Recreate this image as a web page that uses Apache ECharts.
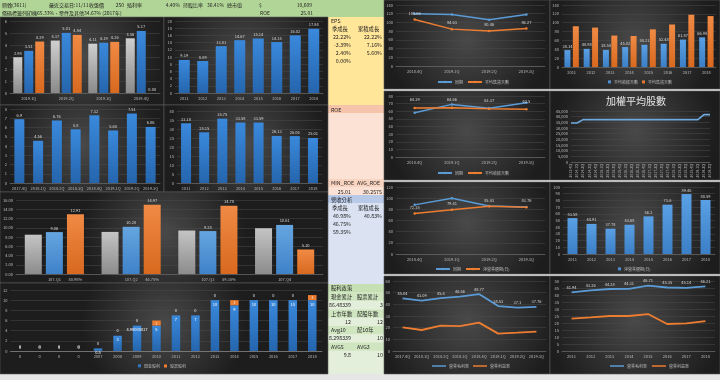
<!DOCTYPE html>
<html><head><meta charset="utf-8">
<script src="https://cdn.jsdelivr.net/npm/echarts@6/dist/echarts.min.js"></script>
<style>html,body{margin:0;padding:0;background:#e6e6e6}#c{width:720px;height:380px}</style>
</head><body><div id="c"></div>
<script>
// ---------------- DATA ----------------
const epsQCats = ['2019.1Q', '2019.2Q', '2019.3Q', '2019.4Q'];
const epsQGray = [2.98, 4.37, 4.11, 4.56];
const epsQBlue = [3.51, 5.01, 4.19, 5.17];
const epsQOrange = [4.29, 4.84, 4.26, 0];

const years = ['2011', '2012', '2013', '2014', '2015', '2016', '2017', '2018'];
const epsAnnual = [9.19, 8.89, 13.01, 14.67, 15.14, 14.15, 16.02, 17.84];

const roeQCats = ['2017.4Q', '2018.1Q', '2018.2Q', '2018.3Q', '2018.4Q', '2019.1Q', '2019.2Q', '2019.3Q'];
const roeQ = [6.9, 4.56, 6.76, 5.8, 7.32, 5.68, 7.51, 6.06];
const roeAnnual = [33.18, 28.15, 35.75, 33.58, 33.59, 26.13, 26.06, 25.01];

const revCats = ['107.Q1', '107.Q2', '107.Q3', '107.Q4'];
const revGrowthLbl = ['40.98%', '46.75%', '59.35%', ''];
const revGray = [8.5, 9.1, 9.4, 9.9];
const revBlue = [9.06, 10.2, 9.28, 10.61];
const revOrange = [12.91, 14.97, 14.78, 5.3];

const divCats = ['0', '0', '0', '0', '2007', '2008', '2009', '2010', '2011', '2012', '2013', '2014', '2015', '2016', '2017', '2018'];
const divCash = [0, 0, 0, 0, 0.5, 3, 4.98000017, 5, 7, 7, 10, 9, 10, 10, 10, 10];
const divStock = [0, 0, 0, 0, 0, 0, 0, 1, 0, 0, 0, 1, 0, 0, 0, 1];

const qCats4 = ['2018.4Q', '2019.1Q', '2019.2Q', '2019.3Q'];
const invSame = [120, 118, 106, 118];
const invDaysQ = [106.66, 84.63, 80.46, 86.27];
const arDaysY = [38.14, 40.98, 38.54, 45.02, 50.21, 52.48, 61.87, 66.98];
const invDaysY = [92, 89, 71, 70, 85, 96, 118, 115];

const arSame = [58, 69, 64, 71];
const arDaysQ = [64.39, 64.66, 63.37, 62.5];

const shareCats = ['2013.4Q', '2014.1Q', '2014.2Q', '2014.3Q', '2014.4Q', '2015.1Q', '2015.2Q', '2015.3Q', '2015.4Q', '2016.1Q', '2016.2Q', '2016.3Q', '2016.4Q', '2017.1Q', '2017.2Q', '2017.3Q', '2017.4Q', '2018.1Q', '2018.2Q', '2018.3Q', '2018.4Q', '2019.1Q', '2019.2Q', '2019.3Q'];
const shares = [34400, 34400, 37400, 37400, 37400, 37400, 37400, 37400, 37400, 37400, 37400, 37400, 37400, 37400, 37400, 37400, 37400, 37400, 37400, 37400, 37400, 37400, 41800, 41800];

const cccSame = [88, 100, 86, 84];
const cccQ = [72.35, 79.41, 85.43, 83.76];
const cccY = [53.58, 44.91, 37.78, 43.68, 56.2, 73.6, 89.46, 80.59];

const gmQ = [45.04, 43.09, 45.4, 46.56, 48.77, 38.53, 37.1, 37.76];
const omQ = [20.3, 18, 21.7, 21.4, 24.3, 14.9, 15.7, 16.6];
const gmY = [41.94, 43.26, 44.28, 44.31, 46.71, 45.35, 45.14, 46.21];
const omY = [23.1, 24, 25, 25, 26.4, 19.3, 19.8, 21.4];

// side panels
const epsGrowthQ = ['22.22%', '-3.39%', '2.40%', '0.00%'];
const epsGrowthCum = ['22.22%', '7.16%', '5.60%'];
const roeMinAvg = ['25.01', '30.2575'];
const revGrowthQ = ['40.98%', '46.75%', '59.35%'];
const revGrowthCum = ['40.83%'];
const divStats = [['86.48339', '3'], ['12', '12'], ['8.298339', '10'], ['9.8', '10']];

// ---------------- BUILD ----------------
const FONT = '"Noto Sans CJK TC","Noto Sans",sans-serif';
const AX = '#bdbdbd';
const LB = '#d9d9d9';
const LBLUE = '#5b9bd5', ORANGE = '#ed7d31';
const grids = [], xAxes = [], yAxes = [], series = [], legends = [], graphics = [];

function merge(a, b) {
  const out = Object.assign({}, a);
  for (const k in (b || {})) {
    if (b[k] && typeof b[k] === 'object' && !Array.isArray(b[k]) && a[k] && typeof a[k] === 'object') out[k] = merge(a[k], b[k]);
    else out[k] = b[k];
  }
  return out;
}
function addGrid(l, t, w, h, cats, ymin, ymax, yint, xo, yo) {
  grids.push({ left: l, top: t, width: w, height: h });
  const gi = grids.length - 1;
  xAxes.push(merge({
    gridIndex: gi, type: 'category', data: cats,
    axisLine: { show: true, lineStyle: { color: '#6e6e6e', width: 0.6 } },
    axisTick: { show: false },
    axisLabel: { interval: 0, fontSize: 4, color: AX, margin: 3 },
    splitLine: { show: false }
  }, xo));
  yAxes.push(merge({
    gridIndex: gi, type: 'value', min: ymin, max: ymax, interval: yint,
    axisLine: { show: false }, axisTick: { show: false },
    splitLine: { lineStyle: { color: '#4b4b4b', width: 0.5 } },
    axisLabel: { fontSize: 4, color: AX, margin: 3 }
  }, yo));
  return gi;
}
function vGrad(c1, c2) {
  return { type: 'linear', x: 0, y: 0, x2: 0, y2: 1, colorStops: [{ offset: 0, color: c1 }, { offset: 1, color: c2 }] };
}
function lbl(fmt, extra) {
  return Object.assign({ show: true, position: 'top', fontSize: 4, color: LB, distance: 2, formatter: fmt }, extra || {});
}
const f2 = p => Number(p.value).toFixed(2);
const fr = p => String(p.value);
function bar(gi, name, data, color, w, label, extra) {
  series.push(Object.assign({ type: 'bar', name, xAxisIndex: gi, yAxisIndex: gi, data, barWidth: w, barGap: '22%', itemStyle: { color }, label: label || { show: false } }, extra || {}));
}
function line(gi, name, data, color, label, extra) {
  series.push(Object.assign({ type: 'line', name, xAxisIndex: gi, yAxisIndex: gi, data, symbol: 'circle', symbolSize: 2.5, lineStyle: { color, width: 1.5 }, itemStyle: { color }, label: label || { show: false } }, extra || {}));
}
function legend(left, top, items) {
  legends.push({ left, top, itemWidth: 14, itemHeight: 3, itemGap: 4, padding: 0, textStyle: { fontSize: 4, color: AX, padding: [0, 0, 0, -2] }, data: items, selectedMode: false });
}
function panel(x, y, w, h) {
  graphics.push({ type: 'rect', z: -10, shape: { x, y, width: w, height: h },
    style: { fill: { type: 'radial', x: 0.5, y: 0.45, r: 0.9, colorStops: [{ offset: 0, color: '#494949' }, { offset: 1, color: '#1d1d1d' }] }, stroke: '#5c5c5c', lineWidth: 0.6 } });
}
function box(x, y, w, h, fill) {
  graphics.push({ type: 'rect', z: -10, shape: { x, y, width: w, height: h }, style: { fill } });
}
function txt(x, y, s, o) {
  graphics.push({ type: 'text', z: 50, x, y, style: Object.assign({ text: s, fill: '#1e1e1e', fontSize: 5.3, fontFamily: FONT, align: 'left', verticalAlign: 'middle' }, o || {}) });
}

// ---- header ----
box(0, 0, 384, 17, '#b1d596');
const HF = 5;
txt(2, 5, '鼎翰(3611)', { fontSize: HF });
txt(49, 5, '最近交易日:11/11', { fontSize: HF });
txt(89, 5, '收盤價', { fontSize: HF });
txt(124, 5, '250', { fontSize: HF, align: 'right' });
txt(127, 5, '殖利率', { fontSize: HF });
txt(180, 5, '4.40%', { fontSize: HF, align: 'right' });
txt(183, 5, '持股比率', { fontSize: HF });
txt(224, 5, '36.41%', { fontSize: HF, align: 'right' });
txt(227, 5, '總市值', { fontSize: HF });
txt(259, 5, '$', { fontSize: HF });
txt(312, 5, '10,609', { fontSize: HF, align: 'right' });
txt(2, 13, '條碼標籤列印機65.33%、零件及其他34.67% (2017年)', { fontSize: HF });
txt(260, 13, 'ROE', { fontSize: HF });
txt(313, 13, '25.01', { fontSize: HF, align: 'right' });

// ---- side panels ----
box(328, 17, 56, 88, '#ffe699');
txt(331, 21, 'EPS');
txt(332, 29, '季成長'); txt(358, 29, '累積成長');
epsGrowthQ.forEach((v, i) => txt(351, 37 + 8 * i, v, { align: 'right' }));
epsGrowthCum.forEach((v, i) => txt(382, 37 + 8 * i, v, { align: 'right' }));

box(328, 105, 56, 90, '#fbe2d5');
box(328, 105, 56, 8, '#f6c4aa');
txt(331, 109.5, 'ROE');
box(328, 179, 56, 8, '#f8d3c0');
txt(331, 183, 'MIN_ROE'); txt(357, 183, 'AVG_ROE');
txt(351, 192, roeMinAvg[0], { align: 'right' }); txt(382, 192, roeMinAvg[1], { align: 'right' });

box(328, 195, 56, 89, '#dbe3f3');
box(328, 195, 56, 8, '#b9c9e8');
txt(331, 199.5, '營收分析');
txt(332, 207.5, '季成長'); txt(358, 207.5, '累積成長');
revGrowthQ.forEach((v, i) => txt(351, 216 + 8 * i, v, { align: 'right' }));
revGrowthCum.forEach((v, i) => txt(382, 216 + 8 * i, v, { align: 'right' }));

box(328, 284, 56, 90, '#e3efda');
const divHeads = [['股利政策', ''], ['現金累計', '股票累計'], ['上市年數', '配股年數'], ['Avg10', '配10年'], ['AVG5', 'AVG3']];
box(328, 284, 56, 8.5, '#c6e0b4');
[292.5, 309.5, 326, 342.5].forEach(y => box(328, y, 56, 8.3, '#cfe5c0'));
txt(331, 288, divHeads[0][0]);
[297, 313.5, 330, 346.5].forEach((y, i) => { txt(331, y, divHeads[i + 1][0]); txt(357, y, divHeads[i + 1][1]); });
[305, 322, 338, 354.5].forEach((y, i) => { txt(351, y, divStats[i][0], { align: 'right' }); txt(383, y, divStats[i][1], { align: 'right' }); });

// ---- left panels ----
panel(0, 17, 164, 88);
panel(164, 17, 164, 88);
panel(0, 105, 164, 87);
panel(164, 105, 164, 87);
panel(0, 192, 328, 91);
panel(0, 283, 328, 91);

// right panels
panel(384, 0, 166, 89);
panel(550, 0, 170, 89);
panel(384, 91, 166, 89);
panel(550, 91, 170, 89);
panel(384, 182, 166, 92);
panel(550, 182, 170, 92);
panel(384, 276, 166, 98);
panel(550, 276, 170, 98);

// Chart A: EPS quarterly
let g = addGrid(10, 21, 150, 72, epsQCats, 0, 6, 1);
bar(g, 'a1', epsQGray, vGrad('#cfcfcf', '#8a8a8a'), 9, lbl(f2));
bar(g, 'a2', epsQBlue, vGrad('#3a89dc', '#2565ad'), 9, lbl(f2));
bar(g, 'a3', epsQOrange, vGrad('#f08a44', '#d8691f'), 9, lbl(f2));

// Chart B: EPS annual
g = addGrid(175, 21, 148, 72, years, 0, 20, 2);
bar(g, 'b1', epsAnnual, vGrad('#3a89dc', '#2565ad'), 11, lbl(f2));

// Chart C: ROE quarterly
g = addGrid(10, 109, 150, 74, roeQCats, 0, 8, 1);
bar(g, 'c1', roeQ, vGrad('#3a89dc', '#2565ad'), 10, lbl(fr));

// Chart D: ROE annual
g = addGrid(177, 111, 145, 72, years, 0, 40, 5);
bar(g, 'd1', roeAnnual, vGrad('#3a89dc', '#2565ad'), 10, lbl(f2));

// Chart E: revenue
g = addGrid(15, 200, 308, 74, revCats, 0, 16, 2, {
  axisLabel: {
    formatter: (v, i) => '{p|}{a|' + v + '}{b|' + revGrowthLbl[i] + '}',
    rich: { p: { width: 21, fontSize: 4 }, a: { width: 21, align: 'center', fontSize: 4, color: AX }, b: { width: 21, align: 'center', fontSize: 4, color: AX } }
  }
}, { axisLabel: { formatter: v => v.toFixed(2) } });
bar(g, 'e1', revGray, vGrad('#c4c4c4', '#8c8c8c'), 17, null, { barGap: '24%' });
bar(g, 'e2', revBlue, vGrad('#65a5e0', '#3f82c8'), 17, lbl(f2), { barGap: '24%' });
bar(g, 'e3', revOrange, vGrad('#f08a44', '#d8691f'), 17, lbl(f2), { barGap: '24%' });

// Chart F: dividends
g = addGrid(10, 290, 312, 61, divCats, 0, 12, 2, { axisLine: { lineStyle: { color: '#9a9a9a' } } });
series.push({
  type: 'bar', name: '現金股利', stack: 'div', xAxisIndex: g, yAxisIndex: g, barWidth: 8.5,
  itemStyle: { color: vGrad('#3a89dc', '#2565ad') },
  data: divCash.map(v => v === 0 ? { value: v, label: { position: 'top' } } : v),
  label: { show: true, position: 'insideTop', fontSize: 4, color: '#ffffff', distance: 2 }
});
series.push({
  type: 'bar', name: '股票股利', stack: 'div', xAxisIndex: g, yAxisIndex: g, barWidth: 8.5,
  itemStyle: { color: ORANGE },
  data: divStock.map(v => v > 0 ? { value: v, label: { position: 'inside' } } : v),
  label: { show: true, position: 'top', fontSize: 4, color: '#e6e6e6', distance: 3 }
});
legend(138, 364, [{ name: '現金股利', icon: 'rect' }, { name: '股票股利', icon: 'rect' }]);
legends[legends.length - 1].itemWidth = 3;

// R1a
g = addGrid(396, 5, 149, 61, qCats4, 0, 140, 20);
line(g, '同期', invSame, LBLUE);
line(g, '平均售貨天數', invDaysQ, ORANGE, lbl(fr, { distance: 3 }));
legend(437, 80, ['同期', '平均售貨天數']);

// R1b
g = addGrid(562, 5, 154, 62, years, 0, 140, 20);
bar(g, '平均收帳天數', arDaysY, vGrad('#5aa0e4', '#3b7fc6'), 6, lbl(fr), { barGap: '40%' });
bar(g, '平均售貨天數 ', invDaysY, vGrad('#f08a44', '#d8691f'), 6, null, { barGap: '40%' });
legend(608, 80, [{ name: '平均收帳天數', icon: 'rect' }, { name: '平均售貨天數 ', icon: 'rect' }]);
legends[legends.length - 1].itemWidth = 3;

// R2a
g = addGrid(396, 96, 149, 61, qCats4, 0, 80, 10);
line(g, '同期', arSame, LBLUE);
line(g, '平均收帳天數 ', arDaysQ, ORANGE, lbl(fr, { distance: 5 }));
legend(437, 171, ['同期', '平均收帳天數 ']);

// R2b shares
graphics.push({ type: 'text', z: 50, x: 636, y: 101, style: { text: '加權平均股數', fill: '#e8e8e8', fontSize: 10, fontFamily: '"Noto Sans CJK TC",serif', align: 'center', verticalAlign: 'middle' } });
g = addGrid(571, 111, 139, 51, shareCats, 0, 45000, 5000, { boundaryGap: false, axisLabel: { rotate: 90, fontSize: 3.6, margin: 2 } });
line(g, 's1', shares, LBLUE, null, { symbol: 'none', lineStyle: { color: '#6fa8dc', width: 1.6 } });

// R3a
g = addGrid(396, 187, 149, 67, qCats4, 0, 120, 20);
line(g, '同期', cccSame, LBLUE);
line(g, '淨營業週期(日)', cccQ, ORANGE, lbl(fr, { distance: 3 }));
legend(435, 267, ['同期', '淨營業週期(日)']);

// R3b
g = addGrid(563, 187, 152, 67, years, 0, 100, 10);
bar(g, '淨營業週期(日) ', cccY, vGrad('#5aa0e4', '#3b7fc6'), 10, lbl(fr));
legend(618, 267, [{ name: '淨營業週期(日) ', icon: 'rect' }]);
legends[legends.length - 1].itemWidth = 3;

// R4a
const noSym = c => ({ symbol: 'circle', symbolSize: 0.01, lineStyle: { color: c, width: 1.8 } });
g = addGrid(393, 281, 153, 70, roeQCats, 0, 60, 10);
line(g, '營業毛利率', gmQ, LBLUE, lbl(fr, { distance: 3 }), noSym(LBLUE));
line(g, '營業利益率', omQ, ORANGE, null, noSym(ORANGE));
legend(432, 364, [{ name: '營業毛利率', icon: 'rect' }, { name: '營業利益率', icon: 'rect' }]);
legends[legends.length - 1].itemHeight = 1.5;

// R4b
g = addGrid(562, 281, 153, 70, years, 0, 50, 5);
line(g, '營業毛利率 ', gmY, LBLUE, lbl(fr, { distance: 3 }), noSym(LBLUE));
line(g, '營業利益率 ', omY, ORANGE, null, noSym(ORANGE));
legend(610, 364, [{ name: '營業毛利率 ', icon: 'rect' }, { name: '營業利益率 ', icon: 'rect' }]);
legends[legends.length - 1].itemHeight = 1.5;

const chart = echarts.init(document.getElementById('c'));
chart.setOption({
  backgroundColor: '#e6e6e6',
  animation: false,
  textStyle: { fontFamily: FONT },
  grid: grids, xAxis: xAxes, yAxis: yAxes, series, legend: legends,
  graphic: { elements: graphics }
});
</script>
</body></html>
